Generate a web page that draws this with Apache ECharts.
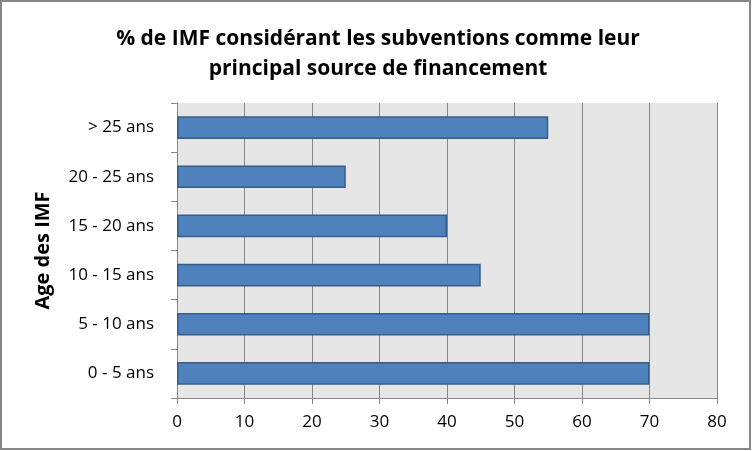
<!DOCTYPE html>
<html><head><meta charset="utf-8">
<script src="https://cdn.jsdelivr.net/npm/echarts@6/dist/echarts.min.js"></script>
<style>html,body{margin:0;padding:0;background:#fff}#c{width:752px;height:451px}</style>
</head><body><div id="c"></div>
<script>
var categories = ['0 - 5 ans', '5 - 10 ans', '10 - 15 ans', '15 - 20 ans', '20 - 25 ans', '> 25 ans'];
var values = [70, 70, 45, 40, 25, 55];
var xTicks = [0, 10, 20, 30, 40, 50, 60, 70, 80];
var titleText = '% de IMF considérant les subventions comme leur\nprincipal source de financement';
var yName = 'Age des IMF';

var chart = echarts.init(document.getElementById('c'));
var font = '"Open Sans", sans-serif';
chart.setOption({
  animation: false,
  graphic: [{type:'rect', shape:{x:1, y:1, width:749, height:448}, style:{fill:'none', stroke:'#868686', lineWidth:2}, silent:true}],
  title: {text: titleText, left: 373, top: 19, textAlign: 'center',
    textStyle: {fontFamily: font, fontSize: 21, fontWeight: 'bold', color: '#000', lineHeight: 30}},
  grid: {left: 177, right: 35, top: 103, bottom: 53, show: true, backgroundColor: '#e6e6e6', borderWidth: 0},
  xAxis: {type: 'value', min: xTicks[0], max: xTicks[xTicks.length-1], interval: 10,
    axisLine: {show: true, lineStyle: {color: '#868686'}},
    axisTick: {show: true, length: 6, lineStyle: {color: '#868686'}},
    splitLine: {show: true, lineStyle: {color: '#868686', width: 1}},
    axisLabel: {fontFamily: font, fontSize: 17, color: '#000', margin: 16}},
  yAxis: {type: 'category', data: categories, name: yName, nameLocation: 'middle', nameGap: 124,
    nameTextStyle: {fontFamily: font, fontSize: 20, fontWeight: 'bold', color: '#000'},
    axisLine: {show: true, lineStyle: {color: '#868686'}},
    axisTick: {show: true, length: 6, lineStyle: {color: '#868686'}},
    axisLabel: {fontFamily: font, fontSize: 17, color: '#000', margin: 23}},
  series: [{type: 'bar', data: values, barCategoryGap: '54%',
    itemStyle: {color: '#4f81bd', borderColor: '#385d8a', borderWidth: 1.5}}]
});
</script></body></html>
